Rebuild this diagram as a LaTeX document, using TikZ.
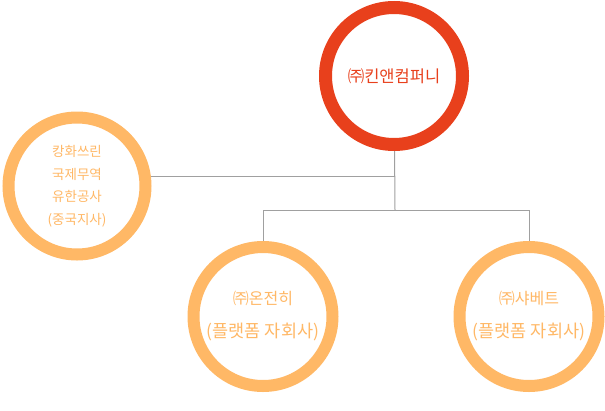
\documentclass[tikz,border=0pt]{standalone}
\usepackage{fontspec}
\setmainfont{Noto Sans CJK KR}
\usetikzlibrary{backgrounds}
\definecolor{ringred}{HTML}{E8401C}
\definecolor{ringorange}{HTML}{FFB866}
\definecolor{linkgray}{HTML}{A0A0A0}
\newcommand{\subline}{\fontsize{17.5}{33}\selectfont (플랫폼 자회사)}
\begin{document}
\begin{tikzpicture}[x=1pt,y=-1pt,
  ring/.style={circle,draw,fill=white,minimum size=139pt,inner sep=0pt,line width=12pt,align=center},
  link/.style={draw=linkgray,line width=1pt}]
\useasboundingbox (0,0) rectangle (605,410);
\node[ring,draw=ringred,text=ringred,minimum size=137pt,line width=13pt,font=\fontsize{16.5}{20}\selectfont] (top) at (394,76) {㈜킨앤컴퍼니};
\node[ring,draw=ringorange,text=ringorange,minimum size=137pt,
      font=\fontsize{13.5}{22.5}\selectfont] (left) at (77,186) {캉화쓰린\\국제무역\\유한공사\\(중국지사)};
\node[ring,draw=ringorange,text=ringorange,font=\fontsize{16}{33}\selectfont] (bl) at (263,316.5) {㈜온전히\\\subline};
\node[ring,draw=ringorange,text=ringorange,font=\fontsize{16}{33}\selectfont] (br) at (529,316.5) {㈜샤베트\\\subline};
\coordinate (j1) at (395,176);
\coordinate (j2) at (395,210);
\begin{scope}[on background layer]
\draw[link] (top.center) -- (j2);
\draw[link] (j1) -- (j1 -| left.center);
\draw[link] (j2 -| bl.center) -- (j2 -| br.center);
\draw[link] (j2 -| bl.center) -- (bl.center);
\draw[link] (j2 -| br.center) -- (br.center);
\end{scope}
\end{tikzpicture}
\end{document}
